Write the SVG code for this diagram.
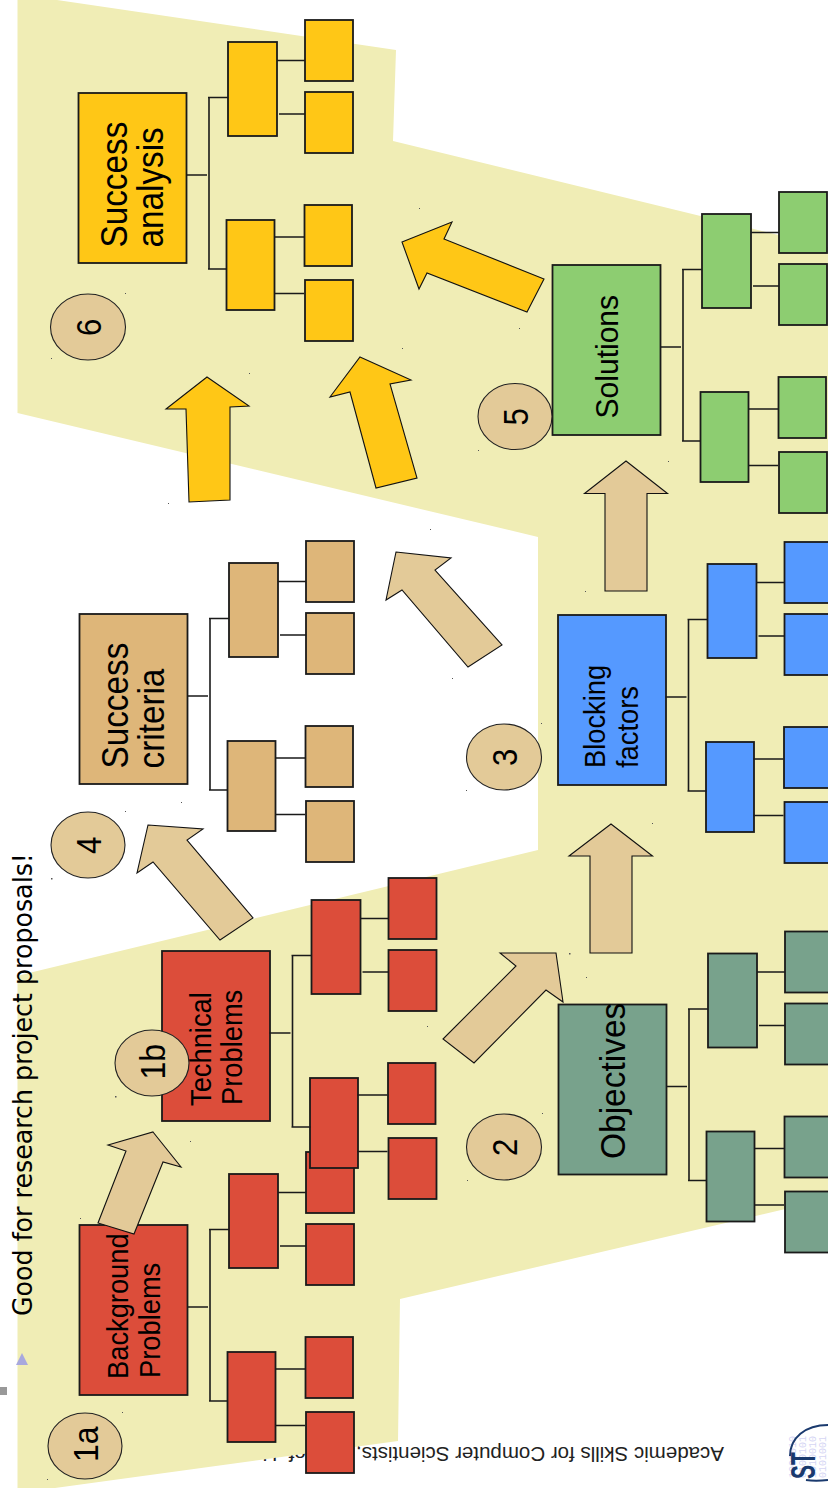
<svg xmlns="http://www.w3.org/2000/svg" width="828" height="1496" viewBox="0 0 828 1496">
<style>
text{font-family:"Liberation Sans",Arial,sans-serif;fill:#000}
.box{stroke:#1a1a1a;stroke-width:1.8}
.red .box{fill:#dc4d3a}.gold .box{fill:#ffc716}.tan .box{fill:#deb679}.green .box{fill:#8dcd71}.blue .box{fill:#5599ff}.teal .box{fill:#78a28c}
.link{fill:none;stroke:#1a1a1a;stroke-width:1.6}
.arrow{stroke:#111;stroke-width:1.1;stroke-linejoin:miter}
.atan{fill:#e3ca98}.agold{fill:#ffc716}
.badge ellipse{fill:#e3ca98;stroke:#222;stroke-width:1.1}
.digits{font-family:"Liberation Mono",monospace;font-size:10px;fill:#d6d6f4}
</style>
<defs>
<path id="links" d="M186 175H207M209 98V269M208 97.5H228M208 269H227M277 60.5H305M279 114H305M274 237H304M274 293.5H304"/>
</defs>
<g id="footer">
<text transform="translate(724,1447) rotate(180)" font-size="20.500" style="fill:#222">Academic Skills for Computer Scientists, <tspan dx="24">Prof. U.</tspan></text>
</g>
<polygon id="backdrop" fill="#f0edb5" points="17.5,-2 57,0 396,50 393,141 828,247 828,1199 400,1299 398,1441 55,1488 17.5,1488 17.5,976 33,972 538,850 538,537 17.5,413"/>
<g id="marks">
<rect x="0" y="1387" width="7" height="8" fill="#999"/>
<polygon points="16,1365 28,1365 22,1353" fill="#a8a8de"/>
</g>
<g id="title"><text transform="translate(32,1316) rotate(-90)" font-size="27" style="font-family:'DejaVu Sans',sans-serif" textLength="463" lengthAdjust="spacingAndGlyphs">Good for research project proposals!</text></g>
<g id="logo">
<text class="digits" transform="translate(796,1478) rotate(-90)">1001010</text>
<text class="digits" transform="translate(806,1478) rotate(-90)">0100101</text>
<text class="digits" transform="translate(816,1478) rotate(-90)">1010010</text>
<text class="digits" transform="translate(826,1478) rotate(-90)">0101001</text>
<path d="M790 1456C790 1438 805 1425 828 1425M806 1480C812 1481 820 1481 828 1480" fill="none" stroke="#1a3a6e" stroke-width="2"/>
<text transform="translate(815,1479) rotate(-90) scale(.6,1)" font-size="35" font-weight="700" style="fill:#1a3a6e">ST</text>
</g>
<g id="nodes">
<g id="success-analysis" class="gold">
<rect class="box" x="78.5" y="93" width="108" height="170"/><rect class="box" x="228" y="42" width="49" height="94"/><rect class="box" x="226.5" y="220" width="48" height="90"/><rect class="box" x="305" y="20" width="48" height="61"/><rect class="box" x="305" y="92" width="48" height="61"/><rect class="box" x="304.5" y="205" width="47.500" height="61"/><rect class="box" x="305" y="280" width="48" height="61"/>
<text transform="translate(126.500,247.500) rotate(-90) scale(.9,1)" font-size="37">Success</text><text transform="translate(163,247.500) rotate(-90) scale(.9,1)" font-size="37">analysis</text>
</g>
<g id="success-criteria" class="tan" transform="translate(1,521)">
<rect class="box" x="78.5" y="93" width="108" height="170"/><rect class="box" x="228" y="42" width="49" height="94"/><rect class="box" x="226.5" y="220" width="48" height="90"/><rect class="box" x="305" y="20" width="48" height="61"/><rect class="box" x="305" y="92" width="48" height="61"/><rect class="box" x="304.5" y="205" width="47.500" height="61"/><rect class="box" x="305" y="280" width="48" height="61"/>
<text transform="translate(126.500,247.500) rotate(-90) scale(.9,1)" font-size="37">Success</text><text transform="translate(163,247.500) rotate(-90) scale(.9,1)" font-size="37">criteria</text>
</g>
<g id="background-problems" class="red" transform="translate(1,1132)">
<rect class="box" x="78.5" y="93" width="108" height="170"/><rect class="box" x="228" y="42" width="49" height="94"/><rect class="box" x="226.5" y="220" width="48" height="90"/><rect class="box" x="305" y="20" width="48" height="61"/><rect class="box" x="305" y="92" width="48" height="61"/><rect class="box" x="304.5" y="205" width="47.500" height="61"/><rect class="box" x="305" y="280" width="48" height="61"/>
<text transform="translate(127,247) rotate(-90) scale(.91,1)" font-size="30">Background</text><text transform="translate(159,246) rotate(-90) scale(.91,1)" font-size="30">Problems</text>
</g>
<g id="technical-problems" class="red" transform="translate(83.500,858)">
<rect class="box" x="78.5" y="93" width="108" height="170"/><rect class="box" x="228" y="42" width="49" height="94"/><rect class="box" x="226.5" y="220" width="48" height="90"/><rect class="box" x="305" y="20" width="48" height="61"/><rect class="box" x="305" y="92" width="48" height="61"/><rect class="box" x="304.5" y="205" width="47.500" height="61"/><rect class="box" x="305" y="280" width="48" height="61"/>
<text transform="translate(127,248) rotate(-90) scale(.91,1)" font-size="30">Technical</text><text transform="translate(158.500,247) rotate(-90) scale(.91,1)" font-size="30">Problems</text>
</g>
<g id="objectives" class="teal" transform="translate(480,911.500)">
<rect class="box" x="78.5" y="93" width="108" height="170"/><rect class="box" x="228" y="42" width="49" height="94"/><rect class="box" x="226.5" y="220" width="48" height="90"/><rect class="box" x="305" y="20" width="48" height="61"/><rect class="box" x="305" y="92" width="48" height="61"/><rect class="box" x="304.5" y="205" width="47.500" height="61"/><rect class="box" x="305" y="280" width="48" height="61"/>
<text transform="translate(145,247.500) rotate(-90) scale(.93,1)" font-size="36">Objectives</text>
</g>
<g id="blocking-factors" class="blue" transform="translate(479.500,522)">
<rect class="box" x="78.5" y="93" width="108" height="170"/><rect class="box" x="228" y="42" width="49" height="94"/><rect class="box" x="226.5" y="220" width="48" height="90"/><rect class="box" x="305" y="20" width="48" height="61"/><rect class="box" x="305" y="92" width="48" height="61"/><rect class="box" x="304.5" y="205" width="47.500" height="61"/><rect class="box" x="305" y="280" width="48" height="61"/>
<text transform="translate(125.500,246) rotate(-90) scale(.91,1)" font-size="30">Blocking</text><text transform="translate(158.500,246) rotate(-90) scale(.91,1)" font-size="30">factors</text>
</g>
<g id="solutions" class="green" transform="translate(474,172)">
<rect class="box" x="78.5" y="93" width="108" height="170"/><rect class="box" x="228" y="42" width="49" height="94"/><rect class="box" x="226.5" y="220" width="48" height="90"/><rect class="box" x="305" y="20" width="48" height="61"/><rect class="box" x="305" y="92" width="48" height="61"/><rect class="box" x="304.5" y="205" width="47.500" height="61"/><rect class="box" x="305" y="280" width="48" height="61"/>
<text transform="translate(144,246.500) rotate(-90) scale(.97,1)" font-size="31">Solutions</text>
</g>
</g>
<g id="connectors">
<use href="#links" class="link"/>
<use href="#links" class="link" x="1" y="521"/>
<use href="#links" class="link" x="1" y="1132"/>
<use href="#links" class="link" x="83.5" y="858"/>
<use href="#links" class="link" x="480" y="911.5"/>
<use href="#links" class="link" x="479.5" y="522"/>
<use href="#links" class="link" x="474" y="172"/>
<polygon class="arrow atan" points="153,1132 181,1167 163,1162 134,1234 98,1223 126,1151 108,1145"/>
<polygon class="arrow atan" points="148,825 203,829 187,840 253,918 220,940 153,862 137,873"/>
<polygon class="arrow atan" points="396,552 451,558 435,570 502,645 468,667 402,590 386,600"/>
<polygon class="arrow atan" points="556,953 563,1002 546,990 474,1063 443,1039 516,966 500,953"/>
<polygon class="arrow atan" points="611,824 652.500,856 632,856 632,953 590,953 590,856 569,856"/>
<polygon class="arrow atan" points="626,461 667.500,493.500 647,493.500 647,591 605,591 605,493.500 584.500,493.500"/>
<polygon class="arrow agold" points="402,242 452,222 444,239 544,279 527,312 427,273 419,289"/>
<polygon class="arrow agold" points="360,357 411,380 390,384 417,478 376,488 350,392 330,397"/>
<polygon class="arrow agold" points="207,377 249,406 230,407 230,500 189,502 186,409 166,409"/>
</g>
<g id="badges">
<g id="badge-1a" class="badge"><ellipse cx="85" cy="1446" rx="37" ry="33"/><text transform="translate(97.500,1462) rotate(-90) scale(.89,1)" font-size="36">1a</text></g>
<g id="badge-1b" class="badge"><ellipse cx="152" cy="1063" rx="37" ry="33"/><text transform="translate(165,1079.500) rotate(-90) scale(.89,1)" font-size="36">1b</text></g>
<g id="badge-2" class="badge"><ellipse cx="504" cy="1147" rx="37.500" ry="33"/><text transform="translate(516.500,1156) rotate(-90) scale(.89,1)" font-size="35">2</text></g>
<g id="badge-3" class="badge"><ellipse cx="504" cy="757" rx="37.500" ry="33"/><text transform="translate(516.500,766) rotate(-90) scale(.89,1)" font-size="35">3</text></g>
<g id="badge-4" class="badge"><ellipse cx="88" cy="845" rx="37" ry="33"/><text transform="translate(100.500,854) rotate(-90) scale(.89,1)" font-size="35">4</text></g>
<g id="badge-5" class="badge"><ellipse cx="515" cy="416.500" rx="37" ry="33"/><text transform="translate(527.500,425.500) rotate(-90) scale(.89,1)" font-size="35">5</text></g>
<g id="badge-6" class="badge"><ellipse cx="88" cy="327" rx="37.500" ry="33"/><text transform="translate(100.500,336) rotate(-90) scale(.89,1)" font-size="35">6</text></g>
</g>
<path id="specks" fill="#555" d="M125 293h1v1h-1zM51 358h1v1h-1zM125 811h1v1h-1zM51 878h1.500v1.500h-1.500zM115 1096h1.500v1.500h-1.500zM189 1029h1v1h-1zM122 1412h1v1h-1zM47 1479h1v1h-1zM478 450h1v1h-1zM519 328h1v1h-1zM419 208h1v1h-1zM466 790h1v1h-1zM541 723h1v1h-1zM467 1180h1v1h-1zM542 1113h1v1h-1zM168 503h1v1h-1zM249 373h1v1h-1zM402 348h1v1h-1zM430 529h1v1h-1zM452 678h1v1h-1zM585 591h1v1h-1zM668 461h1v1h-1zM569 953h1.500v1.500h-1.500zM586 977h1v1h-1zM652 823h1v1h-1zM181 802h1v1h-1zM80 1218h1v1h-1zM190 1141h1v1h-1zM427 1026h1v1h-1z"/>
</svg>
